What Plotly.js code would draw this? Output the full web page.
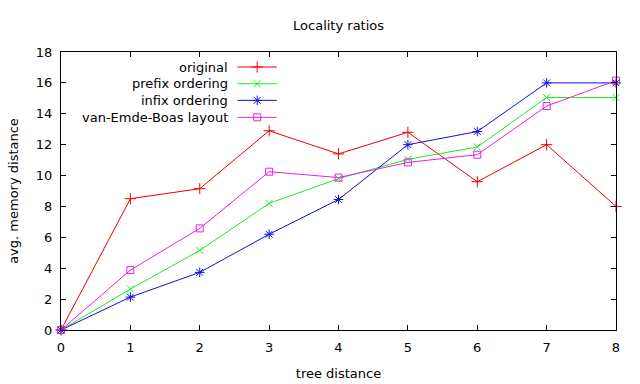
<!DOCTYPE html>
<html><head><meta charset="utf-8">
<script src="https://cdn.plot.ly/plotly-3.0.1.min.js"></script>
<style>html,body{margin:0;padding:0;background:#fff}#c{width:640px;height:384px}</style>
</head><body><div id="c"></div>
<script>
const xs = [0,1,2,3,4,5,6,7,8];
const original = [0,8.5,9.15,12.9,11.4,12.8,9.6,12.0,8.0];
const prefixOrd = [0,2.65,5.15,8.2,9.8,11.05,11.85,15.05,15.05];
const infixOrd = [0,2.13,3.73,6.2,8.45,12.0,12.85,16.0,16.0];
const vEB = [0,3.88,6.58,10.25,9.87,10.85,11.35,14.5,16.15];
const names = ["original","prefix ordering","infix ordering","van-Emde-Boas layout"];
const colors = ["#ee0000","#22e822","#1010e0","#e820e8"];
const symbols = ["cross-thin-open","x-thin-open","asterisk-open","square-open"];
const sizes = [8,7,8,7];
const series = [original, prefixOrd, infixOrd, vEB];

const traces = series.map((ys,i)=>({
  x: xs, y: ys, type:"scatter", mode:"lines+markers", name:names[i],
  line:{color:colors[i], width:1},
  marker:{symbol:symbols[i], size:sizes[i], color:colors[i], line:{color:colors[i], width:1}},
  showlegend:false, cliponaxis:false
}));

// custom gnuplot-style legend (sample on the right of the text)
const legY = [0.946,0.886,0.826,0.765];
const annotations = [];
const shapes = [];
names.forEach((n,i)=>{
  annotations.push({xref:"paper",yref:"paper",x:0.305, y:legY[i], xanchor:"right", yanchor:"middle",
    text:n, showarrow:false, font:{family:"DejaVu Sans", size:13, color:"#000"}});
  shapes.push({type:"line", xref:"paper", yref:"paper", x0:0.318, x1:0.389, y0:legY[i], y1:legY[i],
    line:{color:colors[i], width:1}});
  traces.push({x:[0.3535], y:[legY[i]], xaxis:"x2", yaxis:"y2", type:"scatter", mode:"markers",
    marker:{symbol:symbols[i], size:sizes[i], color:colors[i], line:{color:colors[i], width:1}},
    showlegend:false, hoverinfo:"skip", cliponaxis:false});
});

const axFont = {family:"DejaVu Sans", size:13, color:"#000"};
const layout = {
  width:640, height:384,
  margin:{l:61, r:24, t:52, b:54},
  paper_bgcolor:"#fff", plot_bgcolor:"#fff",
  title:{text:"Locality ratios", font:{family:"DejaVu Sans", size:13, color:"#000"}, x:0.529, xanchor:"center", y:0.935, yanchor:"middle"},
  xaxis:{range:[0,8], dtick:1, ticks:"inside", ticklen:5, tickcolor:"#000", showline:true, linecolor:"#000", linewidth:1,
    mirror:"ticks", showgrid:false, zeroline:false, tickfont:axFont, ticklabelstandoff:5,
    title:{text:"tree distance", font:axFont, standoff:15}},
  yaxis:{range:[0,18], dtick:2, ticks:"inside", ticklen:5, tickcolor:"#000", showline:true, linecolor:"#000", linewidth:1,
    mirror:"ticks", showgrid:false, zeroline:false, tickfont:axFont, ticklabelstandoff:5,
    title:{text:"avg. memory distance", font:axFont, standoff:14}},
  xaxis2:{overlaying:"x", range:[0,1], visible:false, fixedrange:true},
  yaxis2:{overlaying:"y", range:[0,1], visible:false, fixedrange:true},
  annotations, shapes, showlegend:false
};
Plotly.newPlot("c", traces, layout, {staticPlot:true});
</script></body></html>
